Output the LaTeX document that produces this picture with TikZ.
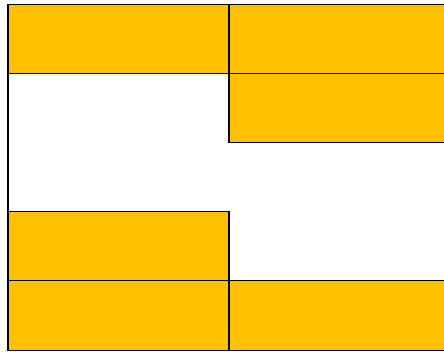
\documentclass[tikz,border=0pt]{standalone}
\usepackage{xcolor}
\usepackage{tikz}
\usetikzlibrary{positioning}

\definecolor{cellyellow}{HTML}{FFC000}

\begin{document}
\begin{tikzpicture}[
  x=1pt, y=-1pt,
  node distance=0pt and 0pt,
  cell/.style={draw, line width=1.2pt, fill=cellyellow, minimum width=221pt, minimum height=69.2pt, inner sep=0pt, outer sep=0pt, anchor=north west},
  edge/.style={line width=1.2pt}
]
\useasboundingbox (0,0) rectangle (444,352);
\node[cell] (r1l) at (8,4.5) {};
\node[cell, right=of r1l] (r1r) {};
\node[cell, below=of r1r] (r2r) {};
\node[cell] (r4l) at (8,211.7) {};
\node[cell, below=of r4l] (r5l) {};
\node[cell, right=of r5l] (r5r) {};

\draw[edge] (r1l.north west) -- (r5l.south west);
\end{tikzpicture}
\end{document}
